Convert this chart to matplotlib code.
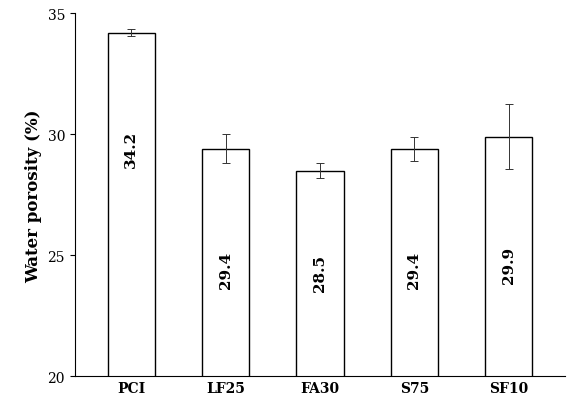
import matplotlib
matplotlib.use("Agg")
import matplotlib.pyplot as plt

categories = ["PCI", "LF25", "FA30", "S75", "SF10"]
values = [34.2, 29.4, 28.5, 29.4, 29.9]
errors = [0.15, 0.6, 0.3, 0.5, 1.35]
labels = ["34.2", "29.4", "28.5", "29.4", "29.9"]
label_y = [29.4, 24.4, 24.3, 24.4, 24.6]

plt.rcParams['font.family'] = ['DejaVu Serif']
fig = plt.figure(figsize=(5.84, 4.10), dpi=100)
ax = fig.add_axes([0.128, 0.08, 0.84, 0.885])
x = range(len(categories))
ax.bar(x, values, width=0.5, color="white", edgecolor="black", linewidth=1.0,
       yerr=errors, capsize=3, error_kw=dict(elinewidth=0.7, ecolor="#333333", capthick=0.7))
for i, (ly, t) in enumerate(zip(label_y, labels)):
    ax.text(i, ly, t, rotation=90, ha="center", va="center", fontsize=11, fontweight="bold")
ax.set_ylim(20, 35)
ax.set_xlim(-0.6, 4.6)
ax.set_yticks([20, 25, 30, 35])
ax.set_xticks(list(x))
ax.set_xticklabels(categories, fontweight="bold", fontsize=10)
ax.tick_params(axis="y", labelsize=10)
ax.tick_params(axis="x", length=0)
ax.set_ylabel("Water porosity (%)", fontweight="bold", fontsize=12)
for s in ["top", "right"]:
    ax.spines[s].set_visible(False)
fig.savefig("out.png", dpi=100)
